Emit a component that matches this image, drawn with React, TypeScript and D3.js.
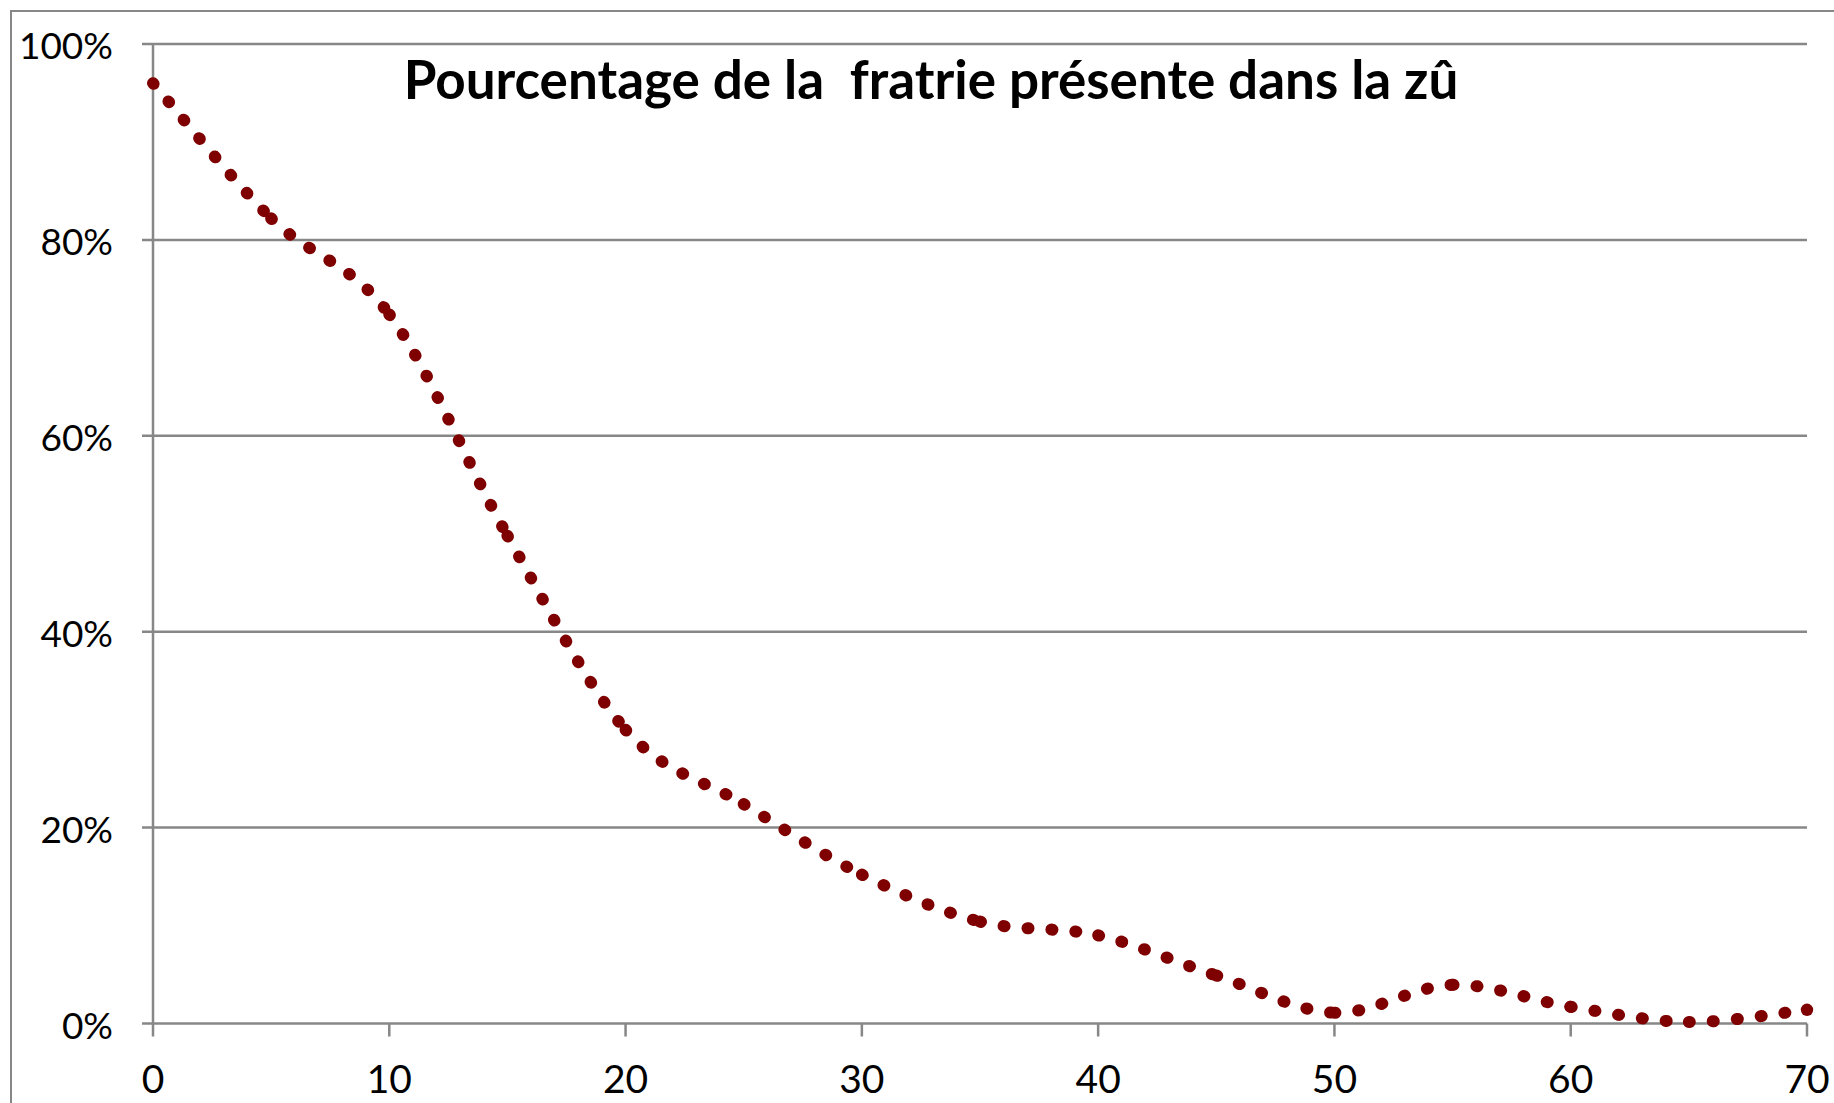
import * as d3 from 'd3';
import React from 'react';

// age (years) and share of the siblings still living in the zû
const ages = [0, 5, 10, 15, 20, 25, 30, 35, 40, 45, 50, 55, 60, 65, 70];
const shares = [0.96, 0.822, 0.724, 0.498, 0.3, 0.224, 0.152, 0.104, 0.09, 0.049, 0.011, 0.0395, 0.017, 0.0015, 0.014];
const xTicks = [0, 10, 20, 30, 40, 50, 60, 70];
const yTicks = [0, 0.2, 0.4, 0.6, 0.8, 1];
const title = 'Pourcentage de la  fratrie présente dans la zû';

const W = 1834;
const H = 1103;
const left = 153, right = 1807, top = 44, bottom = 1023.5;
const grey = '#878787';
const lineColor = '#7f0000';
const font = 'Lato, "Open Sans", sans-serif';

export default function App() {
    const x = d3.scaleLinear().domain([0, 70]).range([left, right]);
    const y = d3.scaleLinear().domain([0, 1]).range([bottom, top]);

    const pts = ages.map((a, i) => [x(a), y(shares[i])]);

    // Excel style smoothing: one bezier per pair of points, each drawn on its own
    // so the dot pattern restarts at every data point like in the original
    const segments = [];
    for (let i = 0; i < pts.length - 1; i++) {
        const p0 = pts[i - 1] || pts[i];
        const p1 = pts[i];
        const p2 = pts[i + 1];
        const p3 = pts[i + 2] || pts[i + 1];
        const p = d3.path();
        p.moveTo(p1[0], p1[1]);
        p.bezierCurveTo(
            p1[0] + (p2[0] - p0[0]) / 6, p1[1] + (p2[1] - p0[1]) / 6,
            p2[0] - (p3[0] - p1[0]) / 6, p2[1] - (p3[1] - p1[1]) / 6,
            p2[0], p2[1]
        );
        segments.push(p.toString());
    }
    const last = pts[pts.length - 1];

    return (
        <div style={{ position: 'absolute', left: 0, top: 0 }}>
            <svg width={W} height={H} style={{ display: 'block', background: '#fff' }}>
                {/* chart frame, runs off the picture on the right and bottom */}
                <rect x={11} y={11} width={W + 20} height={H + 20} fill="#fff" stroke={grey} strokeWidth={2} />

                {yTicks.map((t) => (
                    <g key={'y' + t}>
                        <line x1={left - 11} x2={right} y1={y(t)} y2={y(t)} stroke={grey} strokeWidth={2.5} />
                        <text x={113} y={y(t) + 15} textAnchor="end" fontFamily={font} fontSize={37} fill="#000">
                            {d3.format('.0%')(t)}
                        </text>
                    </g>
                ))}

                <line x1={left} x2={left} y1={top} y2={bottom} stroke={grey} strokeWidth={2.5} />

                {xTicks.map((t) => (
                    <g key={'x' + t}>
                        <line x1={x(t)} x2={x(t)} y1={bottom} y2={bottom + 13} stroke={grey} strokeWidth={2.5} />
                        <text x={x(t)} y={1093} textAnchor="middle" fontFamily={font} fontSize={39} fill="#000">
                            {t}
                        </text>
                    </g>
                ))}

                {segments.map((d, i) => (
                    <path key={i} d={d} fill="none" stroke={lineColor} strokeWidth={12}
                        strokeLinecap="round" strokeDasharray="1 23" />
                ))}
                {/* closing dot on the last point */}
                <circle cx={last[0]} cy={last[1]} r={6.2} fill={lineColor} />

                <text x={931} y={99} textAnchor="middle" fontFamily={font} fontWeight="bold"
                    fontSize={53} fill="#000" style={{ whiteSpace: 'pre' }}>
                    {title}
                </text>
            </svg>
        </div>
    );
}
